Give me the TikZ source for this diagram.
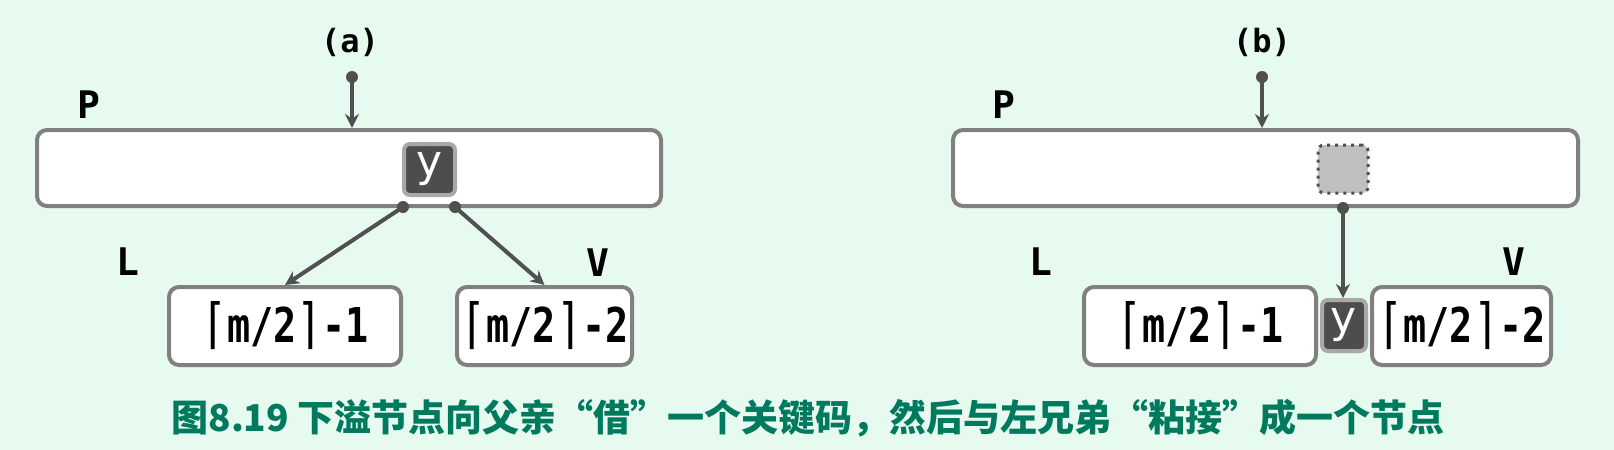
\documentclass[tikz,border=0pt]{standalone}
\usepackage{fontspec}
\usepackage{tikz}
\usetikzlibrary{arrows.meta}
\newfontfamily\cjkfont{Noto Sans CJK SC}
\newfontfamily\labelfont{DejaVu Sans Mono}
\newfontfamily\boxfont{DejaVu Sans Mono}[FakeStretch=0.8]
\newfontfamily\keyfont{DejaVu Sans}
\newcommand\lceilmark{{\mdseries\fontsize{27}{27}\selectfont ⌈}}
\newcommand\rceilmark{{\mdseries\fontsize{27}{27}\selectfont ⌉}}
\definecolor{bgmint}{RGB}{230,250,240}
\definecolor{boxgray}{RGB}{128,128,128}
\definecolor{linkgray}{RGB}{80,80,80}
\definecolor{keydark}{RGB}{77,77,77}
\definecolor{keyrim}{RGB}{168,168,168}
\definecolor{capgreen}{RGB}{0,122,94}
\tikzset{
  node box/.style={rectangle,draw=boxgray,fill=white,line width=2pt,rounded corners=5pt,
    inner sep=0pt,font=\boxfont\bfseries\fontsize{24}{24}\selectfont},
  key node/.style={rectangle,draw=keyrim,fill=keydark,line width=2pt,rounded corners=3pt,
    inner sep=0pt,text=white,font=\keyfont\fontsize{22}{22}\selectfont},
  hole/.style={rectangle,draw=linkgray,fill=black!25,line width=1.5pt,rounded corners=3pt,
    dash pattern=on 1.5pt off 2.5pt,inner sep=0pt},
  letter node/.style={font=\labelfont\bfseries\fontsize{19}{19}\selectfont},
  title node/.style={font=\labelfont\bfseries\fontsize{16}{16}\selectfont},
  dot/.style={circle,fill=linkgray,inner sep=0pt,minimum size=6pt},
  link/.style={draw=linkgray,line width=2pt,-{Stealth[length=7pt,width=7pt]}}
}
\begin{document}
\begin{tikzpicture}[x=0.5pt,y=-0.5pt]
  \fill[bgmint] (0,0) rectangle (1614,450);
  \useasboundingbox (0,0) rectangle (1614,450);
  % (a)
  \node [title node] (ta) at (350,42) {(a)};
  \node [letter node] (npa) at (89,105) {P};
  \node [letter node] (nla) at (128,262) {L};
  \node [letter node] (nva) at (598,263) {V};
  \node [node box,minimum width=312pt,minimum height=38pt] (pa) at (349,168) {};
  \node [key node,minimum width=25.5pt,minimum height=25.5pt] (ya) at (429.5,169.5) {y};
  \node [node box,minimum width=116pt,minimum height=39pt] (la) at (285,326) {\lceilmark m/2\rceilmark-1};
  \node [node box,minimum width=87.5pt,minimum height=39pt] (va) at (544.5,326) {\lceilmark m/2\rceilmark-2};
  \node [dot] (sa) at (352,77) {};
  \node [dot] (d1) at (403,207) {};
  \node [dot] (d2) at (455,207) {};
  \draw [link] (sa.center) -- (sa.center |- pa.north);
  \draw [link] (d1.center) -- (la.north);
  \draw [link] (d2.center) -- (va.north);
  % (b)
  \node [title node] (tb) at (1262,42) {(b)};
  \node [letter node] (npb) at (1004,105) {P};
  \node [letter node] (nlb) at (1041,262) {L};
  \node [letter node] (nvb) at (1514,262) {V};
  \node [node box,minimum width=312.5pt,minimum height=38pt] (pb) at (1265.5,168) {};
  \node [hole,minimum width=25pt,minimum height=24pt] (hb) at (1343,169) {};
  \node [node box,minimum width=116pt,minimum height=39pt] (lb) at (1200,326) {\lceilmark m/2\rceilmark-1};
  \node [node box,minimum width=89.5pt,minimum height=39pt] (vb) at (1461.5,326) {\lceilmark m/2\rceilmark-2};
  \node [key node,minimum width=22pt,minimum height=25.5pt] (yb) at (1344,325.5) {y};
  \node [dot] (sb) at (1262,77) {};
  \node [dot] (d3) at (1343,208) {};
  \draw [link] (sb.center) -- (sb.center |- pb.north);
  \draw [link] (d3.center) -- (d3.center |- yb.north);
  % caption
  \node [text=capgreen,font=\cjkfont\bfseries\fontsize{18.5}{18.5}\selectfont] (cap) at (808,418)
    {图8.19 下溢节点向父亲“借”一个关键码，然后与左兄弟“粘接”成一个节点};
\end{tikzpicture}
\end{document}
